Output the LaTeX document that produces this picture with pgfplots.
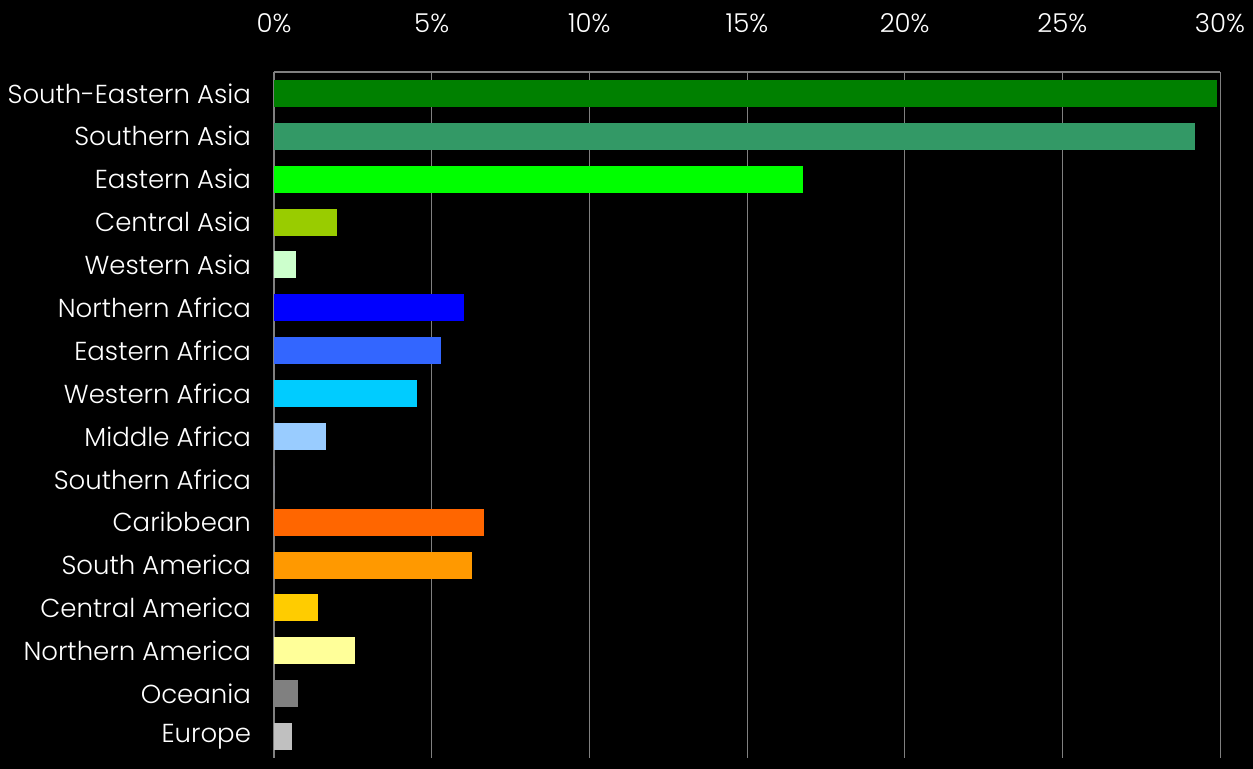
\documentclass[border=0pt]{standalone}
\usepackage{fontspec}
\setmainfont{Poppins}[UprightFont={* Light}]
\usepackage{pgfplots}
\pgfplotsset{compat=1.18}

% colours
\definecolor{cSEA}{HTML}{008000}
\definecolor{cSA}{HTML}{339966}
\definecolor{cEA}{HTML}{00FF00}
\definecolor{cCA}{HTML}{99CC00}
\definecolor{cWA}{HTML}{CCFFCC}
\definecolor{cNAf}{HTML}{0000FF}
\definecolor{cEAf}{HTML}{3366FF}
\definecolor{cWAf}{HTML}{00CCFF}
\definecolor{cMAf}{HTML}{99CCFF}
\definecolor{cSAf}{HTML}{9999FF}
\definecolor{cCar}{HTML}{FF6600}
\definecolor{cSAm}{HTML}{FF9900}
\definecolor{cCAm}{HTML}{FFCC00}
\definecolor{cNAm}{HTML}{FFFF99}
\definecolor{cOce}{HTML}{808080}
\definecolor{cEur}{HTML}{C0C0C0}
\definecolor{gridgray}{HTML}{808080}

\begin{document}
\begin{tikzpicture}
\fill[black] (0,0) rectangle (626.5pt,384.5pt);
\begin{axis}[
    at={(137pt,5.5pt)}, anchor=south west,
    scale only axis, width=473pt, height=343pt,
    xbar, bar shift=0pt, bar width=13.5pt,
    xmin=0, xmax=30, ymin=-0.5, ymax=15.5,
    y dir=reverse,
    axis x line*=top, axis y line*=left,
    axis line style={gridgray, line width=0.6pt},
    xtick={0,5,10,15,20,25,30},
    xticklabels={0\%,5\%,10\%,15\%,20\%,25\%,30\%},
    xmajorgrids, major grid style={gridgray, line width=0.5pt},
    major tick length=0pt,
    ytick={0,...,15},
    yticklabels={South-Eastern Asia,Southern Asia,Eastern Asia,Central Asia,Western Asia,Northern Africa,Eastern Africa,Western Africa,Middle Africa,Southern Africa,Caribbean,South America,Central America,Northern America,Oceania,Europe},
    ticklabel style={white, font=\fontsize{13}{15}\selectfont},
    xticklabel style={yshift=16pt},
    yticklabel style={xshift=-8pt},
    /pgf/number format/assume math mode=true,
    every axis plot/.append style={draw=none},
    clip=false,
]
\addplot[fill=cSEA] coordinates {(29.9,0)};
\addplot[fill=cSA] coordinates {(29.2,1)};
\addplot[fill=cEA] coordinates {(16.78,2)};
\addplot[fill=cCA] coordinates {(2.0,3)};
\addplot[fill=cWA] coordinates {(0.70,4)};
\addplot[fill=cNAf] coordinates {(6.03,5)};
\addplot[fill=cEAf] coordinates {(5.30,6)};
\addplot[fill=cWAf] coordinates {(4.54,7)};
\addplot[fill=cMAf] coordinates {(1.65,8)};
\addplot[fill=cSAf] coordinates {(0,9)};
\addplot[fill=cCar] coordinates {(6.66,10)};
\addplot[fill=cSAm] coordinates {(6.28,11)};
\addplot[fill=cCAm] coordinates {(1.40,12)};
\addplot[fill=cNAm] coordinates {(2.57,13)};
\addplot[fill=cOce] coordinates {(0.76,14)};
\addplot[fill=cEur] coordinates {(0.57,15)};
\end{axis}
\end{tikzpicture}
\end{document}
